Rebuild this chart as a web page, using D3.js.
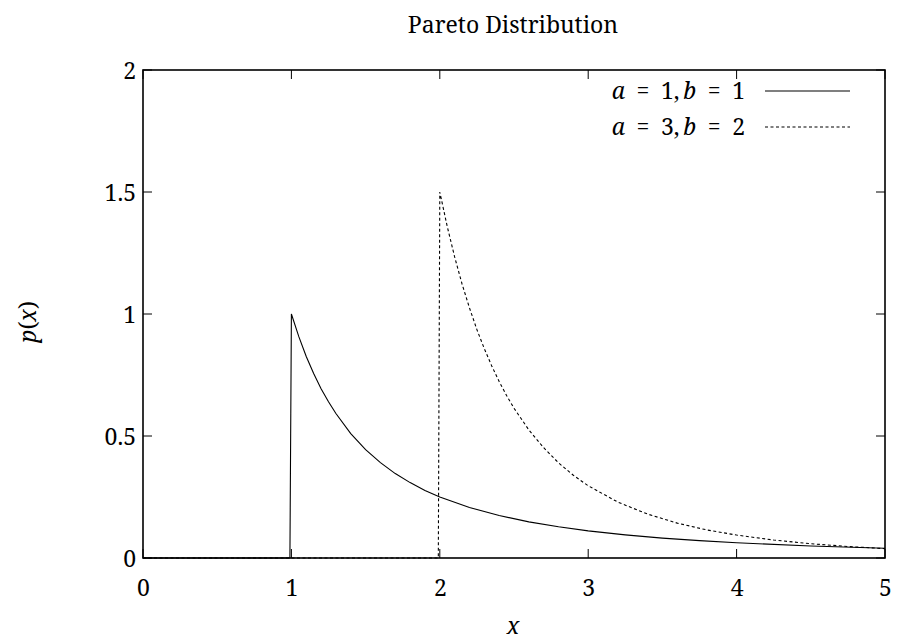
<!DOCTYPE html>
<html><head><meta charset="utf-8">
<script src="https://cdn.jsdelivr.net/npm/d3@7"></script>
<style>body{margin:0;background:#fff}svg{display:block}text{font-family:"Noto Serif","DejaVu Serif",serif;fill:#000}</style>
</head><body>
<script>
const title = "Pareto Distribution";
const xTicks = [0, 1, 2, 3, 4, 5];
const yTicks = [0, 0.5, 1, 1.5, 2];
const yTickLabels = ["0", "0.5", "1", "1.5", "2"];
// series a=1, b=1
const xA = [0, 0.99, 1.0, 1.05, 1.1, 1.15, 1.2, 1.25, 1.3, 1.4, 1.5, 1.6, 1.7, 1.8, 1.9, 2.0, 2.2, 2.4, 2.6, 2.8, 3.0, 3.25, 3.5, 3.75, 4.0, 4.5, 5.0];
const yA = [0, 0, 1.0, 0.907, 0.826, 0.756, 0.694, 0.64, 0.592, 0.510, 0.444, 0.391, 0.346, 0.309, 0.277, 0.25, 0.207, 0.174, 0.148, 0.128, 0.111, 0.0947, 0.0816, 0.0711, 0.0625, 0.0494, 0.04];
// series a=3, b=2
const xB = [0, 1.99, 2.0, 2.05, 2.1, 2.15, 2.2, 2.25, 2.3, 2.35, 2.4, 2.45, 2.5, 2.6, 2.7, 2.8, 2.9, 3.0, 3.2, 3.4, 3.6, 3.8, 4.0, 4.25, 4.5, 4.75, 5.0];
const yB = [0, 0, 1.5, 1.359, 1.234, 1.123, 1.025, 0.936, 0.858, 0.787, 0.723, 0.666, 0.614, 0.525, 0.452, 0.390, 0.339, 0.296, 0.229, 0.180, 0.143, 0.115, 0.094, 0.0736, 0.0585, 0.0471, 0.0384];
const legendLabels = [["1", "1"], ["3", "2"]];

const W = 899, H = 640;
const L = 143, R = 885, T = 70, B = 558;
const svg = d3.select("body").append("svg").attr("width", W).attr("height", H);
const x = d3.scaleLinear().domain([0, 5]).range([L, R]);
const y = d3.scaleLinear().domain([0, 2]).range([B, T]);
const fs = 23;
const ff = '"Noto Serif","DejaVu Serif",serif';

// ticks (mirrored, inward)
const tl = 9;
const g = svg.append("g").attr("stroke", "#000").attr("stroke-width", 1);
xTicks.forEach(v => {
  g.append("line").attr("x1", x(v)).attr("x2", x(v)).attr("y1", B).attr("y2", B - tl);
  g.append("line").attr("x1", x(v)).attr("x2", x(v)).attr("y1", T).attr("y2", T + tl);
});
yTicks.forEach(v => {
  g.append("line").attr("x1", L).attr("x2", L + tl).attr("y1", y(v)).attr("y2", y(v));
  g.append("line").attr("x1", R).attr("x2", R - tl).attr("y1", y(v)).attr("y2", y(v));
});

const xAxis = d3.axisBottom(x).tickValues(xTicks).tickFormat(d3.format("d")).tickSize(0).tickPadding(0);
svg.append("g").attr("transform", `translate(0,${B})`).call(xAxis)
  .call(s => s.select(".domain").remove())
  .selectAll("text").attr("font-size", fs).attr("dy", null).attr("y", 38)
  .style("font-family", ff);
const yAxis = d3.axisLeft(y).tickValues(yTicks).tickFormat((d, i) => yTickLabels[i]).tickSize(0).tickPadding(0);
svg.append("g").attr("transform", `translate(${L},0)`).call(yAxis)
  .call(s => s.select(".domain").remove())
  .selectAll("text").attr("font-size", fs).attr("x", -7).attr("dy", "0.36em")
  .style("font-family", ff);

// curves
const line = d3.line().x(d => x(d[0])).y(d => y(d[1]));
const dA = xA.map((v, i) => [v, yA[i]]);
const dB = xB.map((v, i) => [v, yB[i]]);
svg.append("path").attr("d", line(dA)).attr("fill", "none").attr("stroke", "#000").attr("stroke-width", 1.1);
svg.append("path").attr("d", line(dB)).attr("fill", "none").attr("stroke", "#000").attr("stroke-width", 1.1).attr("stroke-dasharray", "3,2.5");

// frame
svg.append("rect").attr("x", L).attr("y", T).attr("width", R - L).attr("height", B - T)
  .attr("fill", "none").attr("stroke", "#000").attr("stroke-width", 1.6);

// title
svg.append("text").attr("x", (L + R) / 2 - 1).attr("y", 33).attr("text-anchor", "middle").attr("font-size", fs).text(title);

// axis labels
svg.append("text").attr("x", x(2.5) - 1).attr("y", 634).attr("text-anchor", "middle").attr("font-size", fs).attr("font-style", "italic").text("x");
const yl = svg.append("text").attr("transform", "translate(36,322) rotate(-90)").attr("text-anchor", "middle").attr("font-size", fs);
yl.append("tspan").attr("font-style", "italic").text("p");
yl.append("tspan").text("(");
yl.append("tspan").attr("font-style", "italic").text("x");
yl.append("tspan").text(")");

// legend
legendLabels.forEach((d, i) => {
  const yy = 91 + i * 36;
  const t = svg.append("text").attr("x", 745).attr("y", yy).attr("dy", "0.36em").attr("text-anchor", "end").attr("font-size", fs);
  t.append("tspan").attr("font-style", "italic").text("a");
  t.append("tspan").text("\u2002=\u2002" + d[0] + ",\u2009");
  t.append("tspan").attr("font-style", "italic").text("b");
  t.append("tspan").text("\u2002=\u2002" + d[1]);
  svg.append("line").attr("x1", 765).attr("x2", 850).attr("y1", yy).attr("y2", yy)
    .attr("stroke", "#000").attr("stroke-width", 1.1).attr("stroke-dasharray", i === 0 ? null : "3,2.5");
});
</script>
</body></html>
